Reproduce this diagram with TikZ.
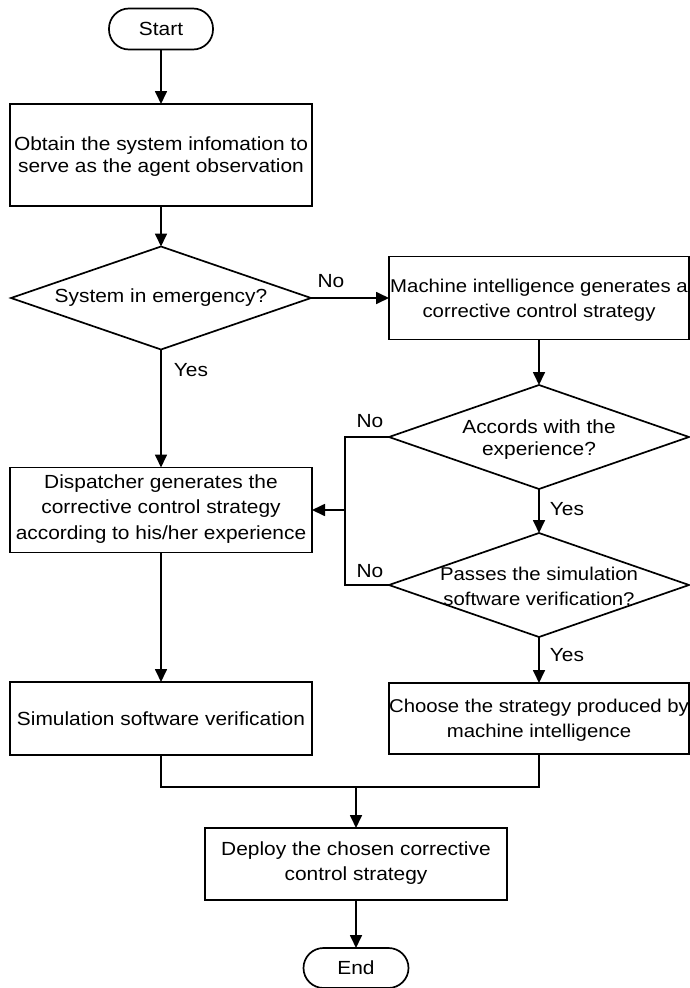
\documentclass[tikz,border=0pt]{standalone}
\usepackage{fontspec}
\setmainfont{Liberation Sans}[FakeStretch=1.1]
\usetikzlibrary{shapes.geometric,arrows.meta}
\begin{document}
\begin{tikzpicture}[x=1pt,y=-1pt,
  line width=1.7pt,
  txt/.style={font=\fontsize{19}{24}\selectfont, align=center, inner sep=0pt},
  boxnode/.style={draw, rectangle, inner sep=0pt, outer sep=0pt},
  term/.style={draw, rectangle, rounded corners=20pt, inner sep=0pt, outer sep=0pt, minimum width=104pt, minimum height=41pt, font=\fontsize{19}{24}\selectfont},
  dia/.style={draw, diamond, inner sep=0pt, outer sep=0pt, minimum width=300pt},
  arr/.style={-{Triangle[length=13pt,width=12pt]}},
  lab/.style={font=\fontsize{19}{24}\selectfont, inner sep=0pt}
]
\useasboundingbox (0,0) rectangle (690,988);

% nodes
\node[term] (start) at (161,29) {Start};
\node[boxnode, minimum width=302pt, minimum height=102pt] (obs) at (161,155) {};
\node[txt, font=\fontsize{19}{22}\selectfont] (obst) at (161,157) {Obtain the system infomation to\\serve as the agent observation};

\node[dia, minimum height=103pt] (d1) at (161,298) {};
\node[txt] (d1t) at (161,298) {System in emergency?};

\node[boxnode, minimum width=300pt, minimum height=83pt] (mi) at (539,298) {};
\node[txt, font=\fontsize{18.5}{25}\selectfont] (mit) at (539,300) {Machine intelligence generates a\\corrective control strategy};

\node[dia, minimum height=104pt] (d2) at (539,437) {};
\node[txt, font=\fontsize{19}{22}\selectfont] (d2t) at (539,440) {Accords with the\\experience?};

\node[dia, minimum height=104pt] (d3) at (539,585) {};
\node[txt, font=\fontsize{18.5}{25}\selectfont] (d3t) at (539,586) {Passes the simulation\\software verification?};

\node[boxnode, minimum width=302pt, minimum height=85pt] (disp) at (161,510) {};
\node[txt, font=\fontsize{19}{25.5}\selectfont] (dispt) at (161,509) {Dispatcher generates the\\corrective control strategy\\according to his/her experience};

\node[boxnode, minimum width=302pt, minimum height=73pt] (sim) at (161,718.5) {};
\node[txt] (simt) at (161,719) {Simulation software verification};

\node[boxnode, minimum width=300pt, minimum height=71pt] (choose) at (539,718.5) {};
\node[txt, font=\fontsize{18.5}{25}\selectfont] (chooset) at (539,720) {Choose the strategy produced by\\machine intelligence};

\node[boxnode, minimum width=302pt, minimum height=72pt] (deploy) at (356,864) {};
\node[txt, font=\fontsize{19}{25}\selectfont] (deployt) at (356,863.5) {Deploy the chosen corrective\\control strategy};

\node[term, minimum width=105pt, minimum height=40pt] (end) at (356,968) {End};

% labels
\node[lab] (no1) at (331,281) {No};
\node[lab] (yes1) at (191,370) {Yes};
\node[lab] (no2) at (370,421) {No};
\node[lab] (yes2) at (567,509) {Yes};
\node[lab] (no3) at (370,571) {No};
\node[lab] (yes3) at (567,655) {Yes};

% helper coordinates
\coordinate (jx) at (345,0);
\coordinate (merge) at (356,787);

% connectors
\draw[arr] (start) -- (start |- obs.north);
\draw[arr] (obs) -- (d1);
\draw[arr] (d1.east) -- (d1.east -| mi.west);
\draw[arr] (d1) -- (disp);
\draw[arr] (mi) -- (d2);
\draw[arr] (d2) -- (d3);
\draw[arr] (d3) -- (choose);
\draw (d2.west) -- (d2.west -| jx) -- (d3.west -| jx) -- (d3.west);
\draw[arr] (disp.east -| jx) -- (disp.east);
\draw[arr] (disp) -- (sim);
\draw (sim.south) -- (sim.south |- merge) -- (choose.south |- merge) -- (choose.south);
\draw[arr] (merge) -- (deploy);
\draw[arr] (deploy) -- (end);
\end{tikzpicture}
\end{document}
